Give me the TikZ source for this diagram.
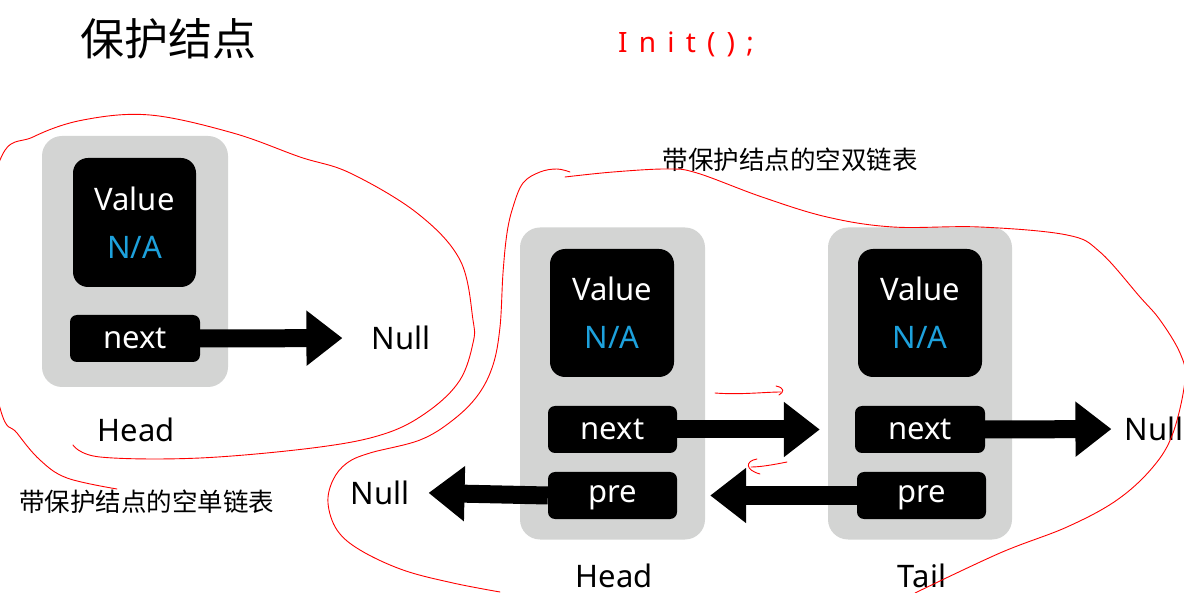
\documentclass[tikz,border=0pt]{standalone}
\usepackage{fontspec}
\setmainfont{Noto Sans}
\newfontfamily\cjk{Noto Sans CJK SC}
\usepackage{xcolor}
\usetikzlibrary{arrows.meta}
\definecolor{cellgray}{HTML}{D3D4D3}
\definecolor{nablue}{HTML}{1DA1DC}
\definecolor{inkred}{HTML}{FF0000}

\tikzset{
  cellbox/.style={fill=cellgray, rounded corners=20pt, inner sep=0pt},
  valuebox/.style={fill=black, text=white, rounded corners=15pt, inner sep=0pt, align=center,
    minimum width=124pt, minimum height=128pt, font=\fontsize{31}{48}\selectfont},
  fieldbox/.style={fill=black, text=white, rounded corners=7pt, inner sep=0pt,
    text height=21pt, text depth=0pt,
    minimum width=129pt, minimum height=47pt, font=\fontsize{31}{37}\selectfont},
  prebox/.style={fieldbox, text height=18pt, text depth=3pt},
  nametext/.style={inner sep=0pt, font=\fontsize{31}{37}\selectfont},
  cjktext/.style={inner sep=0pt, font=\cjk\fontsize{25.5}{30}\selectfont},
  bigarrow/.style={line width=18pt, -{Triangle[length=36pt, width=53pt]}},
  scribble/.style={draw=inkred, line width=0.9pt, line cap=round},
  scribbletext/.style={inner sep=0pt, text=inkred,
    font=\fontsize{28}{30}\selectfont\addfontfeature{LetterSpace=40}}
}

\begin{document}
\begin{tikzpicture}[x=1pt, y=-1pt]
  \useasboundingbox (0,0) rectangle (1184,593);
  \clip (0,0) rectangle (1184,593);

  \node[inner sep=0pt, font=\cjk\fontsize{44}{50}\selectfont] (title) at (168,38.5) {保护结点};
  \node[scribbletext] (initnote) at (686,44) {Init();};

  % single list
  \node[cellbox, minimum width=186pt, minimum height=251pt] (cellA) at (135,261.5) {};
  \node[valuebox, minimum width=123pt, minimum height=129pt] (valA) at (134.5,222.5) {Value\\\textcolor{nablue}{N/A}};
  \node[fieldbox, minimum width=130pt] (nextA) at (135,338.5) {next};
  \node[nametext] (nullA) at (401,338) {Null};
  \node[nametext] (headA) at (136,430) {Head};
  \node[cjktext] (captionA) at (147,502) {带保护结点的空单链表};
  \draw[bigarrow, shorten >=29pt] (nextA.east) -- (nullA.west);

  % double list
  \node[cjktext] (captionB) at (790,160) {带保护结点的空双链表};
  \node[cellbox, minimum width=185pt, minimum height=312pt] (cellH) at (612.5,383.5) {};
  \node[cellbox, minimum width=184pt, minimum height=312pt] (cellT) at (920,383.5) {};
  \node[valuebox] (valH) at (612,313) {Value\\\textcolor{nablue}{N/A}};
  \node[valuebox] (valT) at (920,313) {Value\\\textcolor{nablue}{N/A}};
  \node[fieldbox] (nextH) at (612.5,429.5) {next};
  \node[prebox] (preH) at (612.5,495.5) {pre};
  \node[fieldbox, minimum width=130pt] (nextT) at (920,429.5) {next};
  \node[prebox] (preT) at (921.5,495.5) {pre};
  \node[nametext] (nullL) at (380,492.5) {Null};
  \node[nametext] (nullR) at (1154,429) {Null};
  \node[nametext] (headB) at (614,576) {Head};
  \node[nametext] (tailB) at (922,576) {Tail};

  \draw[bigarrow, shorten >=8pt] (nextH.east) -- (nextH.east -| cellT.west);
  \draw[bigarrow, shorten >=5pt] (preT.west) -- (preT.west -| cellH.east);
  \draw[bigarrow, shorten >=19pt] (preH.west) -- (nullL.east);
  \draw[bigarrow, shorten >=13pt] (nextT.east) -- (nullR.west);

  % red pen marks
  \draw[scribble] plot[smooth, tension=0.6] coordinates {(73,445) (100,457) (200,458) (320,447)
    (387,433) (430,410) (460,380) (473,343) (473,320) (460,260) (417,213) (350,173) (300,157)
    (233,133) (150,115) (83,120) (33,137) (0,160) (-25,280) (0,408) (17,433) (40,460) (67,478) (117,489)};
  \draw[scribble] plot[smooth, tension=0.6] coordinates {(570,172) (557,169) (540,172) (523,183)
    (513,207) (507,233) (503,273) (500,327) (493,365) (478,395) (453,420) (420,440) (370,453)
    (347,463) (333,480) (328,503) (337,530) (360,550) (403,570) (453,583) (500,592)};
  \draw[scribble] plot[smooth, tension=0.6] coordinates {(565,177) (613,172) (667,169) (697,173)
    (762,197) (827,217) (893,227) (980,227) (1067,235) (1100,252) (1140,297) (1160,320)
    (1180,353) (1185,380) (1173,433) (1153,467) (1117,500) (1067,527) (1000,553) (915,593)};
  \draw[scribble] (715,393) .. controls (740,395) and (765,392) .. (781,392);
  \draw[scribble] (776,386) .. controls (785,388) and (784,392) .. (779,395);
  \draw[scribble] (787,462) .. controls (772,465) and (760,467) .. (751,467);
  \draw[scribble] (757,459) .. controls (745,461) and (745,470) .. (760,474);
\end{tikzpicture}
\end{document}
